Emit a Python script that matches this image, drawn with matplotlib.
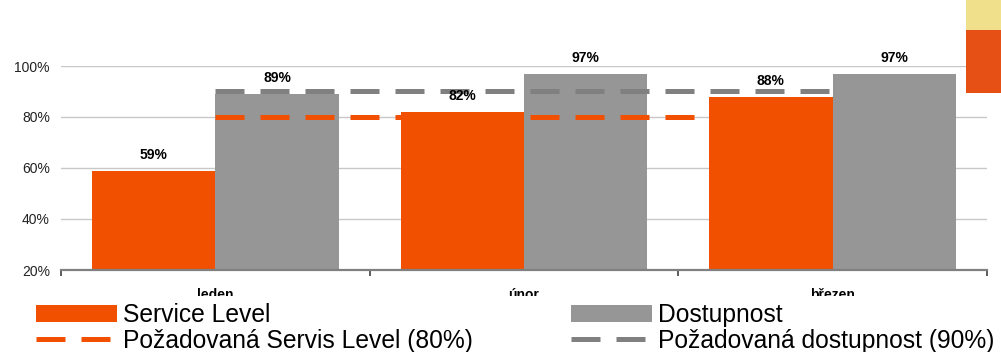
import matplotlib
matplotlib.use("Agg")
import matplotlib.pyplot as plt
from matplotlib.patches import Patch, Rectangle
import numpy as np

plt.rcParams['font.family'] = ['Liberation Sans', 'DejaVu Sans']

# Data
mesice = ['leden', 'únor', 'březen']
service_level = [59, 82, 88]
dostupnost = [89, 97, 97]
pozad_sl = [80, 80, 80]
pozad_dost = [90, 90, 90]
y_ticks = [20, 40, 60, 80, 100]

ORANZ = '#F05000'
SEDA = '#969696'
SEDA_CARA = '#808080'

fig = plt.figure(figsize=(10.01, 3.52), dpi=100)
ax = fig.add_axes([61 / 1001, 82 / 352, 926 / 1001, 204 / 352])

x = np.arange(len(mesice))
w = 0.4
ax.bar(x - w / 2, service_level, w, color=ORANZ, zorder=2)
ax.bar(x + w / 2, dostupnost, w, color=SEDA, zorder=2)

# Cílové hodnoty
dash = (29 / 5, 16 / 5)
l1, = ax.plot(x, pozad_sl, color=ORANZ, lw=3.6, dashes=dash, zorder=3)
l2, = ax.plot(x, pozad_dost, color=SEDA_CARA, lw=3.6, dashes=dash, zorder=3)

# Popisky hodnot
for xs, vals in ((x - w / 2, service_level), (x + w / 2, dostupnost)):
    for xi, v in zip(xs, vals):
        ax.annotate(f"{v}%", (xi, v), xytext=(0, 11.5), textcoords='offset points',
                    ha='center', va='center', fontsize=10, fontweight='bold',
                    annotation_clip=False, zorder=4)

ax.set_xlim(-0.5, len(mesice) - 0.5)
ax.set_ylim(20, 100)
ax.set_yticks(y_ticks)
ax.set_yticklabels([f"{t}%" for t in y_ticks], fontsize=10, color='#222222')
ax.tick_params(axis='y', length=0, pad=8)
ax.yaxis.grid(True, color='#C8C8C8', lw=1.0, zorder=0)
ax.set_axisbelow(True)

ax.set_xticks(np.arange(len(mesice) + 1) - 0.5)
ax.set_xticklabels([])
ax.set_xticks(x, minor=True)
ax.set_xticklabels(mesice, minor=True, fontsize=10, fontweight='bold')
ax.tick_params(axis='x', which='major', length=4, width=1.2, color='#404040', direction='out')
ax.tick_params(axis='x', which='minor', length=0, pad=13)

for s in ('left', 'right', 'top'):
    ax.spines[s].set_visible(False)
ax.spines['bottom'].set_color('#808080')
ax.spines['bottom'].set_linewidth(1.6)
ax.spines['bottom'].set_zorder(5)

# Bílý pás přes spodní část (legenda)
fig.add_artist(Rectangle((0, 0), 1, 1 - 296 / 352, transform=fig.transFigure,
                         facecolor='white', edgecolor='none', zorder=10))

# Dekorace vpravo nahoře
fig.add_artist(Rectangle((966 / 1001, 1 - 30 / 352), 35 / 1001, 30 / 352,
                         transform=fig.transFigure, facecolor='#F0E08C',
                         edgecolor='none', zorder=10))
fig.add_artist(Rectangle((966 / 1001, 1 - 93 / 352), 35 / 1001, 63 / 352,
                         transform=fig.transFigure, facecolor='#E65014',
                         edgecolor='none', zorder=10))

# Legenda
fs = 17.7
leg_kw = dict(loc='center left', frameon=False, borderpad=0, borderaxespad=0,
              fontsize=fs, handlelength=58.3 / fs, handletextpad=4.3 / fs,
              handleheight=12.2 / fs, labelspacing=0.06)
h_sl = Patch(facecolor=ORANZ, edgecolor='none')
h_dost = Patch(facecolor=SEDA, edgecolor='none')
leg1 = fig.legend([h_sl, l1], ['Service Level', 'Požadovaná Servis Level (80%)'],
                  bbox_to_anchor=(36 / 1001, 1 - 328 / 352), **leg_kw)
leg1.set_zorder(11)
leg2 = fig.legend([h_dost, l2], ['Dostupnost', 'Požadovaná dostupnost (90%)'],
                  bbox_to_anchor=(571 / 1001, 1 - 328 / 352), **leg_kw)
leg2.set_zorder(11)

fig.savefig('out.png', dpi=100)
